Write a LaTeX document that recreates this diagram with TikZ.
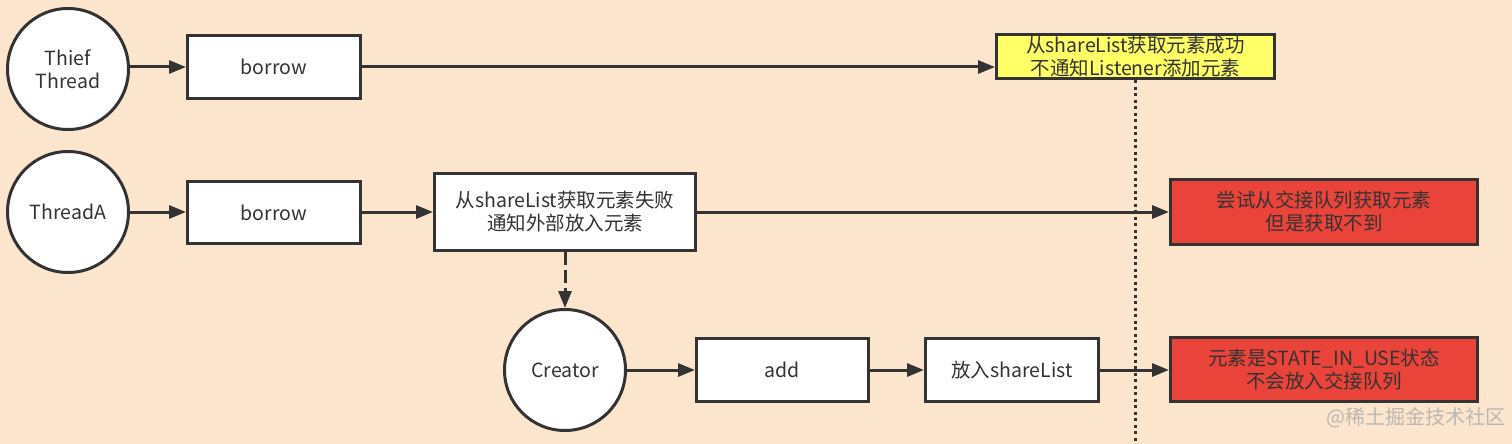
\documentclass[tikz,border=0pt]{standalone}
\usepackage{fontspec}
\setmainfont{Noto Sans CJK SC}
\usetikzlibrary{arrows.meta}
\definecolor{bg}{HTML}{FCE5CD}
\definecolor{ink}{HTML}{333333}
\definecolor{yel}{HTML}{FFFF66}
\definecolor{redbox}{HTML}{EA4339}
\definecolor{wm}{HTML}{BDB7B1}
\tikzset{
  base/.style={draw=ink, line width=3pt, text=ink, font=\fontsize{19.5pt}{23pt}\selectfont, align=center, inner sep=0pt},
  rbox/.style={base, rectangle, fill=white},
  thread/.style={base, circle, fill=white, minimum size=121pt},
  conn/.style={draw=ink, line width=3pt, -{Triangle[length=17pt,width=13pt]}},
  dotline/.style={draw=ink, line width=3pt, dash pattern=on 3pt off 3.5pt},
  dashconn/.style={conn, dash pattern=on 13pt off 5pt}
}
\begin{document}
\begin{tikzpicture}[x=1pt,y=-1pt]
\fill[bg] (0,0) rectangle (1512,444);
\useasboundingbox (0,0) rectangle (1512,444);

% row 1
\node[thread] (thief) at (68,69) {Thief\\Thread};
\node[rbox, minimum width=173pt, minimum height=63pt] (b1) at (274,67) {borrow};
\node[rbox, fill=yel, minimum width=278pt, minimum height=44pt] (ok) at (1135.5,56.5) {从shareList获取元素成功\\不通知Listener添加元素};

% row 2
\node[thread] (ta) at (68,212) {ThreadA};
\node[rbox, minimum width=173pt, minimum height=62pt] (b2) at (274,212.5) {borrow};
\node[rbox, minimum width=261pt, minimum height=77pt] (fail) at (565,212) {从shareList获取元素失败\\通知外部放入元素};
\node[rbox, fill=redbox, minimum width=307pt, minimum height=65pt] (r1) at (1324,212) {尝试从交接队列获取元素\\但是获取不到};

% row 3
\node[thread] (cr) at (565,370) {Creator};
\node[rbox, minimum width=172pt, minimum height=63pt] (add) at (782.5,370) {add};
\node[rbox, minimum width=173pt, minimum height=63pt] (put) at (1012,370) {放入shareList};
\node[rbox, fill=redbox, minimum width=307pt, minimum height=64pt] (r2) at (1324,369.5) {元素是STATE\_IN\_USE状态\\不会放入交接队列};

\coordinate (dotend) at (1135.5,444);

% connectors
\draw[conn] (thief.east |- b1.west) -- (b1.west);
\draw[conn] (b1.east) -- (b1.east -| ok.west);
\draw[dotline] (ok.south) -- (dotend);
\draw[conn] (ta.east) -- (b2.west |- ta.east);
\draw[conn] (b2.east |- fail.west) -- (fail.west);
\draw[conn] (fail.east) -- (r1.west);
\draw[dashconn] (fail.south) -- (cr.north);
\draw[conn] (cr.east) -- (add.west);
\draw[conn] (add.east) -- (put.west);
\draw[conn] (put.east) -- (r2.west |- put.east);

% watermark
\node[text=wm, font=\fontsize{20pt}{22pt}\selectfont, inner sep=0pt] (wmk) at (1416,418) {@稀土掘金技术社区};
\end{tikzpicture}
\end{document}
